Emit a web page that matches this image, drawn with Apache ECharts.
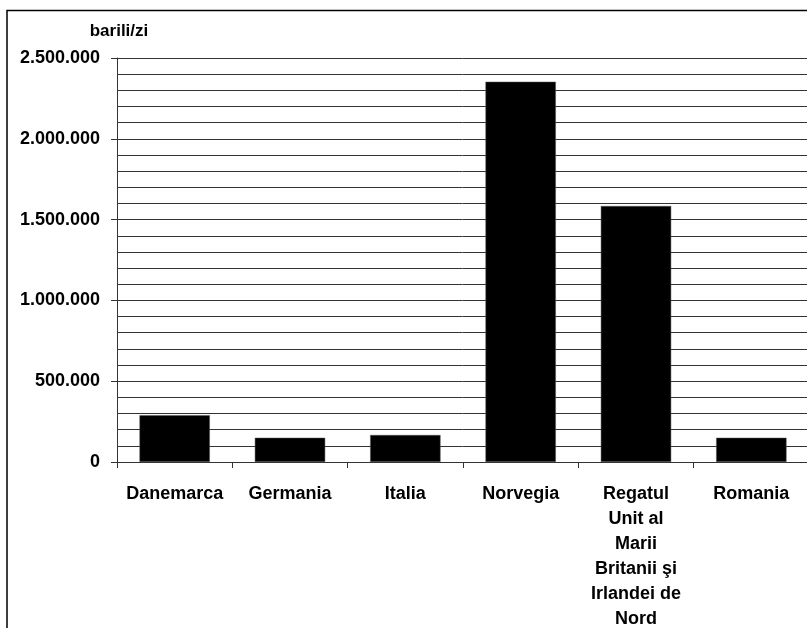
<!DOCTYPE html>
<html>
<head>
<meta charset="utf-8">
<script src="https://cdn.jsdelivr.net/npm/echarts@6/dist/echarts.min.js"></script>
<style>html,body{margin:0;padding:0;background:#fff;}#c{width:807px;height:628px;}</style>
</head>
<body>
<div id="c"></div>
<script>
const categories = ["Danemarca", "Germania", "Italia", "Norvegia", "Regatul\nUnit al\nMarii\nBritanii şi\nIrlandei de\nNord", "Romania"];
const values = [290000, 150000, 167000, 2353000, 1584000, 150000];
const unitLabel = "barili/zi";
const yMax = 2500000;
const yStep = 500000;

const chart = echarts.init(document.getElementById('c'), null, {renderer: 'canvas'});
const fmt = v => v === 0 ? '0' : String(v).replace(/\B(?=(\d{3})+(?!\d))/g, '.');
chart.setOption({
  animation: false,
  backgroundColor: '#fff',
  grid: {left: 117, top: 58, width: 692, height: 404, containLabel: false, outerBoundsMode: 'none'},
  graphic: [
    {type: 'rect', shape: {x: 7, y: 10.5, width: 900, height: 700}, style: {fill: 'none', stroke: '#000', lineWidth: 1.5}, silent: true, z: 0},
    {type: 'text', x: 119, y: 31, style: {text: unitLabel, font: 'bold 17px "Liberation Sans", Arial, sans-serif', fill: '#000', textAlign: 'center', textVerticalAlign: 'middle'}, z: 10}
  ],
  xAxis: {
    type: 'category',
    data: categories,
    axisLine: {show: true, lineStyle: {color: '#333', width: 1}},
    axisTick: {show: true, alignWithLabel: false, length: 6, lineStyle: {color: '#333'}},
    axisLabel: {interval: 0, margin: 20, color: '#000', fontWeight: 'bold', fontSize: 18, fontFamily: '"Liberation Sans", Arial, sans-serif', lineHeight: 25, align: 'center', verticalAlign: 'top'},
    splitLine: {show: false}
  },
  yAxis: {
    type: 'value',
    min: 0, max: yMax, interval: yStep,
    axisLine: {show: true, lineStyle: {color: '#333', width: 1}},
    axisTick: {show: true, inside: false, length: 6, lineStyle: {color: '#333'}},
    minorTick: {show: false, splitNumber: 5},
    axisLabel: {formatter: fmt, margin: 17, color: '#000', fontWeight: 'bold', fontSize: 18, fontFamily: '"Liberation Sans", Arial, sans-serif'},
    splitLine: {show: true, lineStyle: {color: '#333', width: 1}},
    minorSplitLine: {show: true, lineStyle: {color: '#333', width: 1}}
  },
  series: [{
    type: 'bar',
    data: values,
    barWidth: '61%',
    itemStyle: {color: '#000', borderColor: '#555', borderWidth: 0.5},
    z: 3
  }]
});
</script>
</body>
</html>
